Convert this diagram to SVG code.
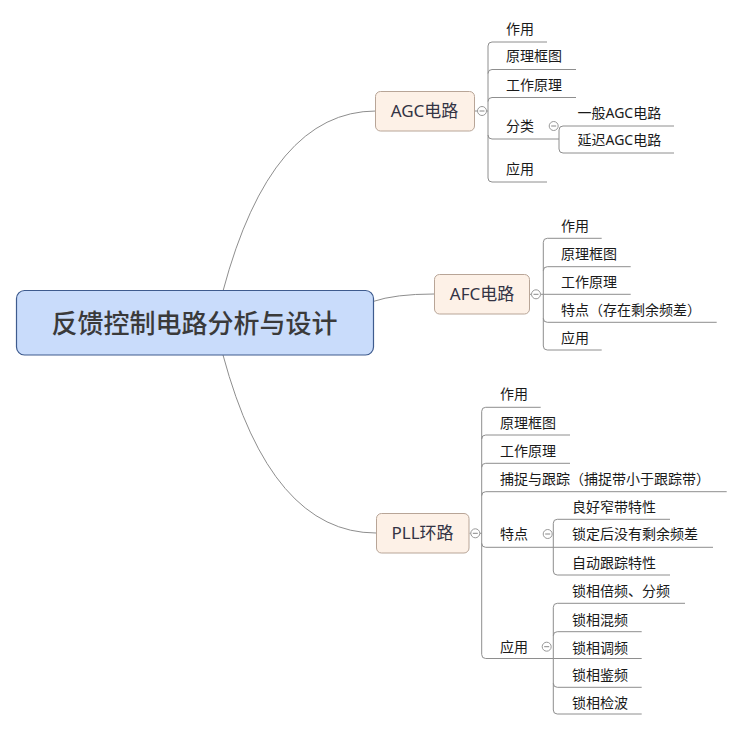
<svg xmlns="http://www.w3.org/2000/svg" width="743" height="731" viewBox="0 0 743 731">
<style>
.ln{fill:none;stroke:#8e8e8e;stroke-width:1}
.t{font-family:"Noto Sans","Noto Sans CJK SC",sans-serif;font-size:14px;fill:#1a1a1a}
.mt{font-family:"Noto Sans","Noto Sans CJK SC",sans-serif;font-size:17px;fill:#333344;text-anchor:middle}
.rt{font-family:"Noto Sans CJK SC",sans-serif;font-size:26px;font-weight:500;fill:#3a3a3a;text-anchor:middle}
.main{fill:#fdf1e7;stroke:#b8a597;stroke-width:1}
.root{fill:#c9dcfb;stroke:#3e5b8e;stroke-width:1.2}
.cc{fill:#fff;stroke:#999;stroke-width:1}
.cm{stroke:#888;stroke-width:1}
</style>
<rect width="743" height="731" fill="#fff"/>
<g id="connectors">
<path class="ln" d="M223 291 Q271 111 376 111"/>
<path class="ln" d="M373 301.5 Q395 294 434 294"/>
<path class="ln" d="M223 355 Q271 533 376 533"/>
<!-- AGC -->
<path class="ln" d="M474.5 111 H477.5 M486.5 111 H488"/>
<path class="ln" d="M488 46 V178"/>
<path class="ln" d="M547 42 H492 Q488 42 488 46"/>
<path class="ln" d="M576 69.5 H492 Q488 69.5 488 73.5"/>
<path class="ln" d="M576 97.5 H492 Q488 97.5 488 101.5"/>
<path class="ln" d="M559 139 H492 Q488 139 488 135"/>
<path class="ln" d="M547 182 H492 Q488 182 488 178"/>
<path class="ln" d="M559 130 V149"/>
<path class="ln" d="M674 126 H563 Q559 126 559 130"/>
<path class="ln" d="M674 153 H563 Q559 153 559 149"/>
<!-- AFC -->
<path class="ln" d="M529.5 294.3 H531.5 M540.5 294.3 H543"/>
<path class="ln" d="M543.3 242.3 V346"/>
<path class="ln" d="M601.7 238.3 H547.3 Q543.3 238.3 543.3 242.3"/>
<path class="ln" d="M630.7 266.7 H547.3 Q543.3 266.7 543.3 270.7"/>
<path class="ln" d="M630.7 294.3 H543.3"/>
<path class="ln" d="M716.7 322.3 H547.3 Q543.3 322.3 543.3 318.3"/>
<path class="ln" d="M601.7 350 H547.3 Q543.3 350 543.3 346"/>
<!-- PLL -->
<path class="ln" d="M469.5 533.3 H471 M480 533.3 H481.7"/>
<path class="ln" d="M481.7 411.3 V654.5"/>
<path class="ln" d="M540.7 407.3 H485.7 Q481.7 407.3 481.7 411.3"/>
<path class="ln" d="M570 435 H485.7 Q481.7 435 481.7 439"/>
<path class="ln" d="M570 463.3 H485.7 Q481.7 463.3 481.7 467.3"/>
<path class="ln" d="M726.7 491.7 H485.7 Q481.7 491.7 481.7 495.7"/>
<path class="ln" d="M713 547.3 H485.7 Q481.7 547.3 481.7 543.3"/>
<path class="ln" d="M553.3 658.5 H485.7 Q481.7 658.5 481.7 654.5"/>
<path class="ln" d="M553.3 523.3 V571"/>
<path class="ln" d="M670 519.3 H557.3 Q553.3 519.3 553.3 523.3"/>
<path class="ln" d="M670 575 H557.3 Q553.3 575 553.3 571"/>
<path class="ln" d="M553.3 607.3 V710"/>
<path class="ln" d="M685 603.3 H557.3 Q553.3 603.3 553.3 607.3"/>
<path class="ln" d="M641.7 631.7 H557.3 Q553.3 631.7 553.3 635.7"/>
<path class="ln" d="M641.7 658.5 H553.3"/>
<path class="ln" d="M641.7 687.3 H557.3 Q553.3 687.3 553.3 683.3"/>
<path class="ln" d="M641.7 714 H557.3 Q553.3 714 553.3 710"/>
</g>
<g id="root">
<rect class="root" x="16.5" y="290.5" width="357" height="64.5" rx="8"/>
<text class="rt" x="194.5" y="332.5">反馈控制电路分析与设计</text>
</g>
<g id="agc">
<rect class="main" x="375.5" y="91.5" width="99" height="39.5" rx="5"/>
<text class="mt" x="424.5" y="117">AGC电路</text>
<circle class="cc" cx="482" cy="111" r="4.5"/><path class="cm" d="M479.5 111 H484.5"/>
</g>
<g id="agc-children">
<text class="t" x="506" y="33.5">作用</text>
<text class="t" x="506" y="61">原理框图</text>
<text class="t" x="506" y="89.5">工作原理</text>
<text class="t" x="506" y="131">分类</text>
<circle class="cc" cx="553.7" cy="126" r="4.5"/><path class="cm" d="M551.2 126 H556.2"/>
<text class="t" x="577.5" y="117.5">一般AGC电路</text>
<text class="t" x="577.5" y="145">延迟AGC电路</text>
<text class="t" x="506" y="173.5">应用</text>
</g>
<g id="afc">
<rect class="main" x="434.5" y="274.5" width="95" height="39.5" rx="5"/>
<text class="mt" x="482" y="300">AFC电路</text>
<circle class="cc" cx="536" cy="294.3" r="4.5"/><path class="cm" d="M533.5 294.3 H538.5"/>
</g>
<g id="afc-children">
<text class="t" x="561" y="231">作用</text>
<text class="t" x="561" y="258.5">原理框图</text>
<text class="t" x="561" y="287">工作原理</text>
<text class="t" x="561" y="315">特点（存在剩余频差）</text>
<text class="t" x="561" y="342.5">应用</text>
</g>
<g id="pll">
<rect class="main" x="376.5" y="513.5" width="92.5" height="39.5" rx="5"/>
<text class="mt" x="422.5" y="539">PLL环路</text>
<circle class="cc" cx="475.3" cy="533.3" r="4.5"/><path class="cm" d="M472.8 533.3 H477.8"/>
</g>
<g id="pll-children">
<text class="t" x="500" y="399">作用</text>
<text class="t" x="500" y="428">原理框图</text>
<text class="t" x="500" y="456">工作原理</text>
<text class="t" x="500" y="484">捕捉与跟踪（捕捉带小于跟踪带）</text>
<text class="t" x="500" y="539">特点</text>
<circle class="cc" cx="547.7" cy="534" r="4.5"/><path class="cm" d="M545.2 534 H550.2"/>
<text class="t" x="572" y="512">良好窄带特性</text>
<text class="t" x="572" y="539">锁定后没有剩余频差</text>
<text class="t" x="572" y="568">自动跟踪特性</text>
<text class="t" x="500" y="652">应用</text>
<circle class="cc" cx="546.7" cy="646.7" r="4.5"/><path class="cm" d="M544.2 646.7 H549.2"/>
<text class="t" x="572" y="596">锁相倍频、分频</text>
<text class="t" x="572" y="624.5">锁相混频</text>
<text class="t" x="572" y="652.5">锁相调频</text>
<text class="t" x="572" y="680">锁相鉴频</text>
<text class="t" x="572" y="708">锁相检波</text>
</g>
</svg>
